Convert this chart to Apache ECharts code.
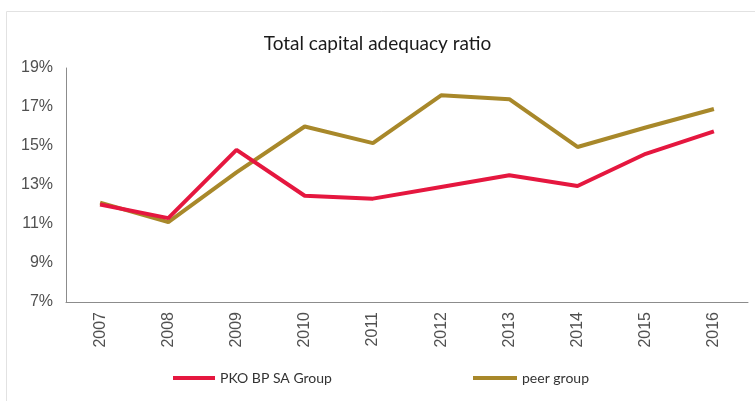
<!DOCTYPE html>
<html>
<head>
<meta charset="utf-8">
<script src="https://cdn.jsdelivr.net/npm/echarts@6/dist/echarts.min.js"></script>
<style>
  html, body { margin: 0; padding: 0; background: #fff; }
  #chart { width: 755px; height: 401px; }
</style>
</head>
<body>
<div id="chart"></div>
<script>
// chart data
const years = ['2007', '2008', '2009', '2010', '2011', '2012', '2013', '2014', '2015', '2016'];
const pkoGroup = [12.0, 11.3, 14.8, 12.45, 12.3, 12.9, 13.5, 12.95, 14.6, 15.75];
const peerGroup = [12.1, 11.1, 13.65, 16.0, 15.15, 17.6, 17.4, 14.95, 15.95, 16.9];
const yTicks = { min: 7, max: 19, interval: 2 };

const chart = echarts.init(document.getElementById('chart'));

const option = {
  animation: false,
  backgroundColor: '#fff',
  title: {
    text: 'Total capital adequacy ratio',
    left: 'center',
    top: 29,
    textStyle: {
      fontFamily: 'Lato',
      fontWeight: 'normal',
      fontSize: 19,
      color: '#1a1a1a'
    }
  },
  graphic: [
    {
      type: 'rect',
      shape: { x: 6.5, y: 11.5, width: 800, height: 500 },
      style: { fill: 'none', stroke: '#e2e2e2', lineWidth: 1 },
      silent: true
    }
  ],
  legend: [
    {
      data: ['PKO BP SA Group'],
      left: 168,
      top: 366,
      icon: 'rect',
      itemWidth: 42,
      itemHeight: 4,
      textStyle: { fontFamily: 'Lato', fontSize: 14, color: '#333' }
    },
    {
      data: ['peer group'],
      left: 468,
      top: 366,
      icon: 'rect',
      itemWidth: 44,
      itemHeight: 4,
      textStyle: { fontFamily: 'Lato', fontSize: 14, color: '#333' }
    }
  ],
  grid: {
    left: 66,
    right: 7,
    top: 68,
    bottom: 99,
    containLabel: false
  },
  xAxis: {
    type: 'category',
    data: years,
    axisTick: { show: false },
    axisLine: { lineStyle: { color: '#8c8c8c', width: 1 } },
    axisLabel: {
      rotate: 90,
      margin: 10,
      color: '#505050',
      fontFamily: 'Liberation Sans',
      fontSize: 16
    }
  },
  yAxis: {
    type: 'value',
    min: yTicks.min,
    max: yTicks.max,
    interval: yTicks.interval,
    axisLine: { show: true, lineStyle: { color: '#8c8c8c', width: 1 } },
    axisTick: { show: false },
    splitLine: { show: false },
    axisLabel: {
      formatter: '{value}%',
      margin: 13,
      color: '#505050',
      fontFamily: 'Liberation Sans',
      fontSize: 16
    }
  },
  series: [
    {
      name: 'PKO BP SA Group',
      type: 'line',
      data: pkoGroup,
      symbol: 'none',
      color: '#e5173f',
      lineStyle: { width: 4, color: '#e5173f' },
      z: 3
    },
    {
      name: 'peer group',
      type: 'line',
      data: peerGroup,
      symbol: 'none',
      color: '#a8882a',
      lineStyle: { width: 4, color: '#a8882a' },
      z: 2
    }
  ]
};

chart.setOption(option);
</script>
</body>
</html>
